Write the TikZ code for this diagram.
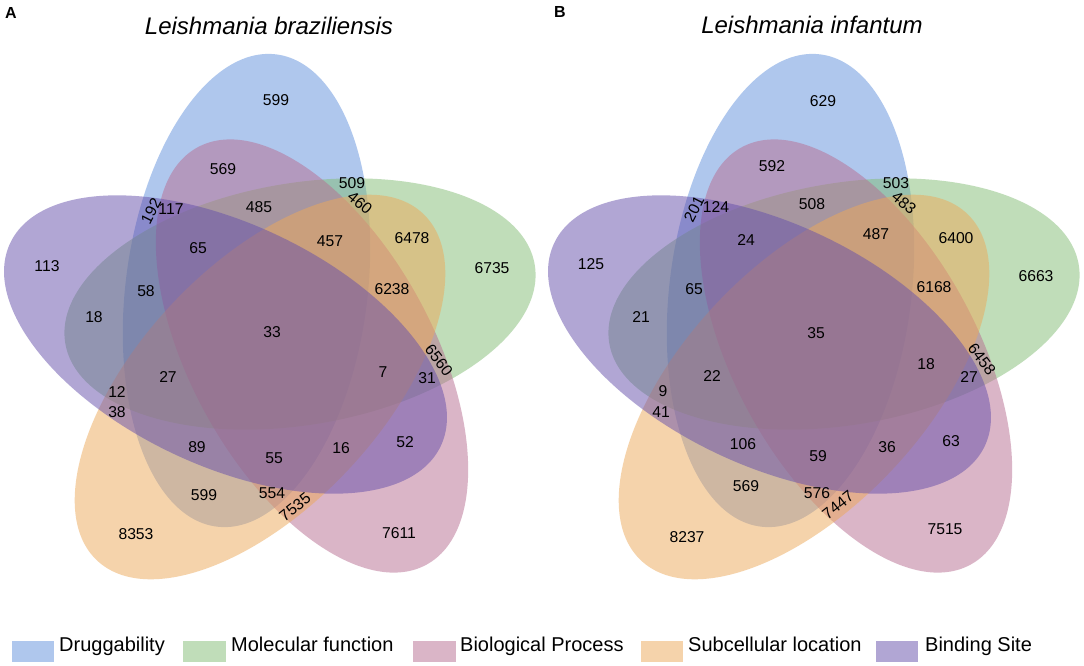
\documentclass[tikz,border=0pt]{standalone}
\usepackage{fontspec}
\setmainfont{Liberation Sans}
\definecolor{cDrug}{RGB}{97,145,221}
\definecolor{cMol}{RGB}{131,189,117}
\definecolor{cBio}{RGB}{183,109,145}
\definecolor{cSub}{RGB}{237,169,89}
\definecolor{cBind}{RGB}{101,79,171}
\newcommand\vennfive{%
  \fill[setfill=cDrug, rotate around={82.8:(246.5,290.5)}] (246.5,290.5) ellipse [x radius=238pt, y radius=121pt];
  \fill[setfill=cMol,  rotate around={9.5:(300,304)}] (300,304) ellipse [x radius=238pt, y radius=121pt];
  \fill[setfill=cBio,  rotate around={-61.2:(312,356)}] (312,356) ellipse [x radius=238pt, y radius=121pt];
  \fill[setfill=cSub,  rotate around={46.8:(260,387)}] (260,387) ellipse [x radius=238pt, y radius=121pt];
  \fill[setfill=cBind, rotate around={-25.2:(225.5,344.5)}] (225.5,344.5) ellipse [x radius=238pt, y radius=121pt];
}
\begin{document}
\begin{tikzpicture}[x=1pt,y=-1pt,
  setfill/.style={fill=#1, fill opacity=0.5, draw=none},
  num/.style={font=\fontsize{15.7}{18}\selectfont, inner sep=0pt},
  ttl/.style={font=\fontsize{24}{28}\selectfont\itshape, inner sep=0pt},
  panel/.style={font=\fontsize{16}{18}\selectfont\bfseries, inner sep=0pt},
  leg/.style={font=\fontsize{20}{24}\selectfont, anchor=base west, inner sep=0pt}]
\useasboundingbox (0,0) rectangle (1084,665);
\fill[white] (0,0) rectangle (1084,665);

% ---------- Panel A ----------
\vennfive
\node[panel] (pA) at (11,13) {A};
\node[ttl] (tA) at (269,26) {Leishmania braziliensis};
\node[num] (a599) at (276,100) {599};
\node[num] (a569) at (223,169) {569};
\node[num] (a509) at (352,183) {509};
\node[num, rotate=-40] (a460) at (360,203) {460};
\node[num, rotate=63] (a192) at (151,211) {192};
\node[num] (a117) at (171,209) {117};
\node[num] (a485) at (259,207) {485};
\node[num] (a457) at (330,241) {457};
\node[num] (a6478) at (412,238) {6478};
\node[num] (a6735) at (492,268) {6735};
\node[num] (a113) at (47,266) {113};
\node[num] (a65) at (198,248) {65};
\node[num] (a58) at (146,291) {58};
\node[num] (a6238) at (392,289) {6238};
\node[num] (a18) at (94,317) {18};
\node[num] (a33) at (272,332) {33};
\node[num] (a27) at (168,377) {27};
\node[num] (a7) at (383,372) {7};
\node[num] (a31) at (427,378) {31};
\node[num, rotate=-53] (a6560) at (439,360) {6560};
\node[num] (a12) at (117,392) {12};
\node[num] (a38) at (117,412) {38};
\node[num] (a89) at (197,447) {89};
\node[num] (a55) at (274,458) {55};
\node[num] (a16) at (341,448) {16};
\node[num] (a52) at (405,442) {52};
\node[num] (a599b) at (204,495) {599};
\node[num] (a554) at (272,493) {554};
\node[num, rotate=38.5] (a7535) at (295,507) {7535};
\node[num] (a8353) at (136,534) {8353};
\node[num] (a7611) at (399,533) {7611};

% ---------- Panel B ----------
\begin{scope}[xshift=544pt]
\vennfive
\end{scope}
\node[panel] (pB) at (560,12) {B};
\node[ttl] (tB) at (812,25) {Leishmania infantum};
\node[num] (b629) at (823,101) {629};
\node[num] (b592) at (772,166) {592};
\node[num] (b503) at (896,183) {503};
\node[num, rotate=-40] (b483) at (904,203) {483};
\node[num, rotate=63] (b201) at (694,209) {201};
\node[num] (b124) at (716,207) {124};
\node[num] (b508) at (812,204) {508};
\node[num] (b487) at (876,234) {487};
\node[num] (b6400) at (956,238) {6400};
\node[num] (b6663) at (1036,276) {6663};
\node[num] (b125) at (591,264) {125};
\node[num] (b24) at (746,240) {24};
\node[num] (b65) at (694,289) {65};
\node[num] (b6168) at (934,287) {6168};
\node[num] (b21) at (641,317) {21};
\node[num] (b35) at (816,333) {35};
\node[num] (b22) at (712,376) {22};
\node[num] (b18) at (926,364) {18};
\node[num] (b27) at (969,377) {27};
\node[num, rotate=-53] (b6458) at (982,359) {6458};
\node[num] (b9) at (663,391) {9};
\node[num] (b41) at (661,412) {41};
\node[num] (b106) at (743,444) {106};
\node[num] (b59) at (818,456) {59};
\node[num] (b36) at (887,447) {36};
\node[num] (b63) at (951,441) {63};
\node[num] (b569) at (746,486) {569};
\node[num] (b576) at (817,493) {576};
\node[num, rotate=38.5] (b7447) at (838,505) {7447};
\node[num] (b8237) at (687,537) {8237};
\node[num] (b7515) at (945,529) {7515};

% ---------- Legend ----------
\fill[setfill=cDrug] (12,641) rectangle (54,662);
\node[leg] (lDrug) at (59,651) {Druggability};
\fill[setfill=cMol] (183,641) rectangle (226,662);
\node[leg] (lMol) at (231,651) {Molecular function};
\fill[setfill=cBio] (413,641) rectangle (456,662);
\node[leg] (lBio) at (460,651) {Biological Process};
\fill[setfill=cSub] (641,641) rectangle (683,662);
\node[leg] (lSub) at (688,651) {Subcellular location};
\fill[setfill=cBind] (876,641) rectangle (918,662);
\node[leg] (lBind) at (925,651) {Binding Site};
\end{tikzpicture}
\end{document}
